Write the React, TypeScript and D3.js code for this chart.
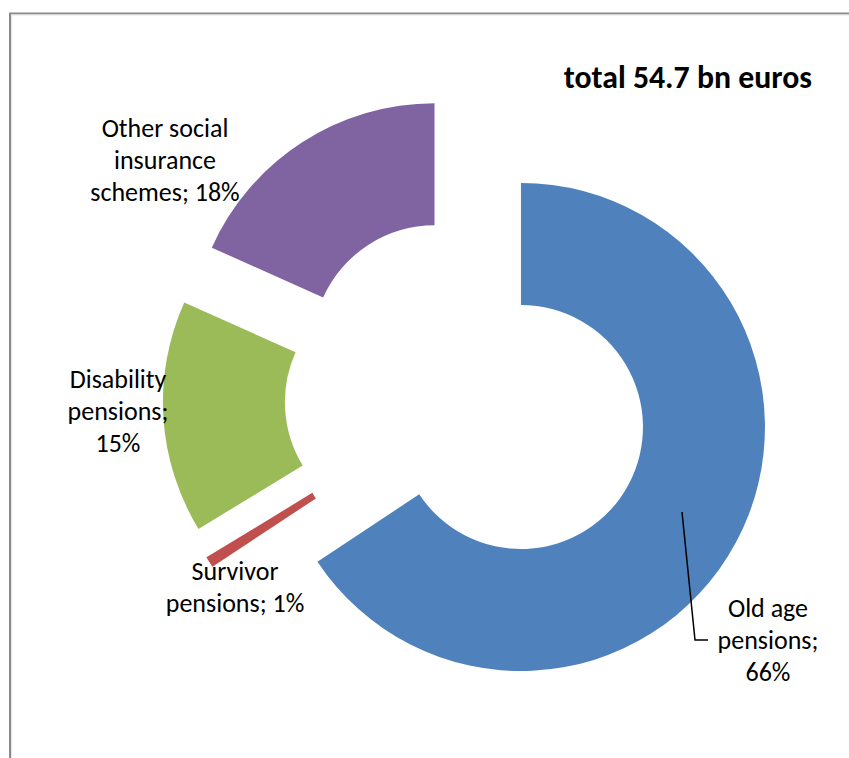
import React from "react";
import * as d3 from "d3";

const categories = ["Old age pensions", "Survivor pensions", "Disability pensions", "Other social insurance schemes"];
const shares = [65.7, 0.6, 15.4, 18.3];
const labelLines = [
  ["Old age", "pensions;", "66%"],
  ["Survivor", "pensions; 1%"],
  ["Disability", "pensions;", "15%"],
  ["Other social", "insurance", "schemes; 18%"],
];
const colors = ["#4F81BD", "#C0504D", "#9BBB59", "#8064A2"];
const title = "total 54.7 bn euros";

// layout (not data)
const W = 849, H = 758;
const CX = 467.5, CY = 398.3;
const R_OUT = 244, R_IN = 122, EXPLODE = 60.7;
const labelAnchors: [number, number][] = [
  [768, 617],
  [235, 580],
  [118, 388],
  [165, 137],
];
const LINE_H = 32;
const leader: [number, number][] = [[682, 512], [695, 640], [708, 640]];
const FONT = "Carlito, Calibri, Lato, 'Open Sans', sans-serif";

export default function App() {
  const pie = d3.pie<number>().sort(null).value((d) => d);
  const arcs = pie(shares);
  const arcGen = d3.arc<d3.PieArcDatum<number>>().innerRadius(R_IN).outerRadius(R_OUT);
  const line = d3.line();

  return (
    <div style={{ position: "absolute", left: 0, top: 0 }}>
      <svg width={W} height={H} style={{ display: "block", background: "#fff" }}>
        <rect x={10} y={13.5} width={W + 20} height={H + 20} fill="none" stroke="#8a8a8a" strokeWidth={2} />
        <rect x={11.5} y={15} width={W + 20} height={H + 20} fill="none" stroke="#e6e6e6" strokeWidth={1} />
        <g transform={`translate(${CX},${CY})`}>
          {arcs.map((a, i) => {
            const mid = (a.startAngle + a.endAngle) / 2;
            const dx = Math.sin(mid) * EXPLODE;
            const dy = -Math.cos(mid) * EXPLODE;
            return (
              <path
                key={categories[i]}
                d={arcGen(a) || ""}
                transform={`translate(${dx},${dy})`}
                fill={colors[i]}
                stroke={i === 1 ? colors[i] : "none"}
                strokeWidth={i === 1 ? 2 : 0}
              />
            );
          })}
        </g>
        <path d={line(leader) || ""} fill="none" stroke="#000" strokeWidth={1.5} />
        {labelLines.map((lines, i) => (
          <text key={categories[i]} fontFamily={FONT} fontSize={26} fill="#000" textAnchor="middle">
            {lines.map((l, j) => (
              <tspan key={j} x={labelAnchors[i][0]} y={labelAnchors[i][1] + j * LINE_H}>
                {l}
              </tspan>
            ))}
          </text>
        ))}
        <text x={812} y={88} textAnchor="end" fontFamily={FONT} fontSize={31.8} fontWeight="bold" fill="#000">
          {title}
        </text>
      </svg>
    </div>
  );
}
